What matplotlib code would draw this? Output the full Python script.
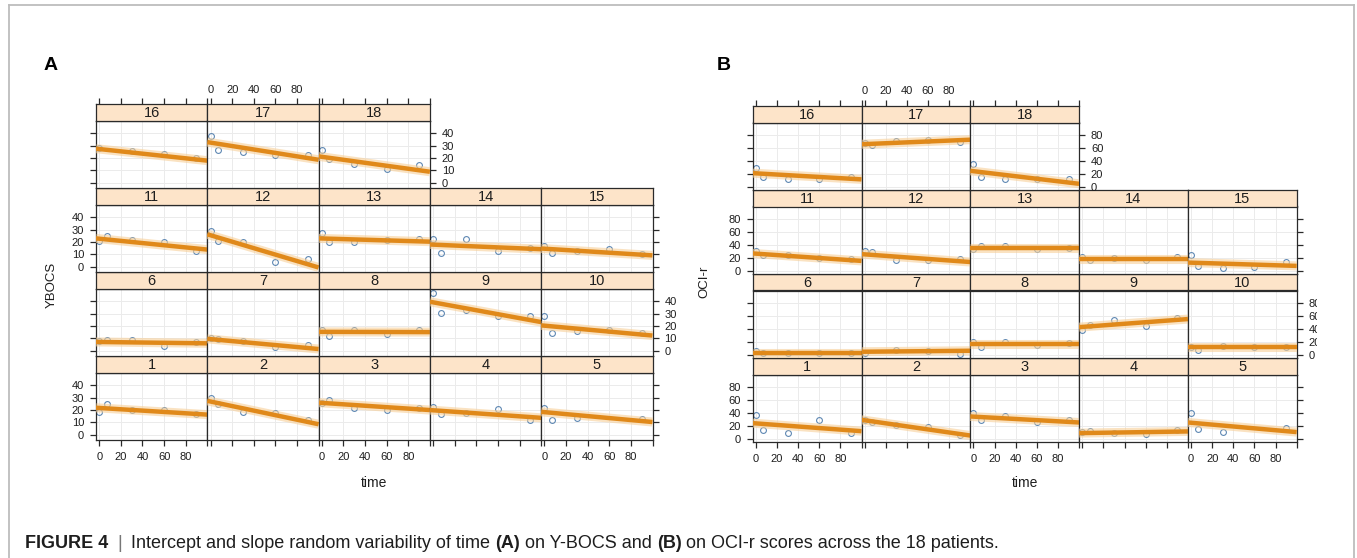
import numpy as np
import matplotlib
matplotlib.use("Agg")
import matplotlib.pyplot as plt
from matplotlib.lines import Line2D
from matplotlib.patches import Rectangle

plt.rcParams['font.family'] = ['Liberation Sans', 'DejaVu Sans']

W_PX, H_PX = 1357, 558

# measurement days and patient ids
times = [0, 7, 30, 60, 90]
patients = list(range(1, 19))

# Y-BOCS observed scores per patient (days 0, 7, 30, 60, 90)
ybocs_scores = [
    [18.6, 24.9, 20.0, 20.0, 16.7],
    [29.6, 24.7, 18.1, 17.3, 12.3],
    [25.5, 28.2, 21.4, 20.0, 21.9],
    [22.2, 16.7, 17.3, 20.5, 12.3],
    [21.7, 12.2, 13.9, np.nan, 13.1],
    [7.7, 8.8, 8.8, 3.8, 7.4],
    [10.4, 9.6, 7.7, 3.0, 4.9],
    [17.0, 11.8, 16.4, 13.7, 17.0],
    [47.0, 30.7, 32.9, 28.0, 28.2],
    [28.2, 14.5, 15.6, 16.4, 14.5],
    [21.1, 25.2, 21.6, 19.7, 12.9],
    [29.0, 20.8, 20.3, 3.8, 6.6],
    [27.1, 20.3, 19.7, 21.6, 22.2],
    [22.2, 11.5, 22.2, 12.9, 15.3],
    [17.0, 11.5, 12.9, 14.2, 10.7],
    [28.2, np.nan, 25.4, 23.5, 19.9],
    [37.8, 26.3, 24.7, 22.5, 22.2],
    [26.3, 19.5, 15.3, 11.0, 14.5],
]
# random intercept / slope fits for Y-BOCS
ybocs_intercept = [21.7, 26.9, 25.8, 19.8, 18.3, 7.1, 9.4, 15.3, 39.2, 20.3,
                   22.7, 25.5, 22.9, 17.9, 14.6, 27.3, 32.5, 21.0]
ybocs_slope = [-0.054, -0.184, -0.058, -0.061, -0.080, -0.011, -0.080, -0.002, -0.160, -0.080,
               -0.088, -0.261, -0.026, -0.037, -0.054, -0.094, -0.139, -0.121]

# OCI-r observed scores per patient
oci_scores = [
    [36.4, 13.3, 9.2, 28.7, 9.2],
    [28.7, 26.2, 22.0, 18.5, 6.7],
    [40.0, 28.7, 34.9, 25.6, 29.7],
    [10.3, 12.8, 9.2, 8.2, 13.3],
    [40.0, 15.9, 10.3, np.nan, 16.9],
    [6.7, 3.1, 3.1, 3.1, 3.1],
    [3.1, np.nan, 8.2, 6.7, 1.5],
    [19.5, 11.8, 19.5, 15.9, 18.5],
    [39.0, 46.7, 53.3, 45.1, 56.9],
    [11.8, 7.2, 14.4, 11.8, 12.3],
    [31.4, 24.6, 24.6, 20.4, 18.8],
    [31.4, 28.8, 16.8, 16.8, 18.3],
    [33.5, 38.7, 39.3, 34.0, 36.1],
    [22.0, 16.8, 20.4, 16.8, 22.0],
    [24.6, 7.9, 5.2, 6.3, 14.1],
    [29.3, 16.2, 13.1, 12.0, 16.2],
    [68.6, 64.4, 70.7, 73.3, 69.6],
    [35.6, 16.2, 12.0, 13.1, 12.0],
]
oci_intercept = [24.2, 29.0, 34.6, 9.3, 25.2, 4.0, 5.2, 16.9, 43.4, 11.8,
                 26.9, 25.8, 36.1, 19.4, 13.0, 21.2, 66.2, 24.5]
oci_slope = [-0.120, -0.235, -0.090, 0.025, -0.144, 0.0, 0.015, 0.0, 0.121, 0.0,
             -0.112, -0.118, 0.0, 0.0, -0.050, -0.093, 0.068, -0.194]

ybocs_ticks = [0, 10, 20, 30, 40]
oci_ticks = [0, 20, 40, 60, 80]
time_ticks = [0, 20, 40, 60, 80, 100]
time_labels = ["0", "20", "40", "60", "80", ""]

STRIP = '#fde4c9'
EDGE = '#2a2a2a'
GRID = '#ebebeb'
ORANGE = '#e0891a'
HALO = '#f7cf98'
POINT = '#5f88b3'
TXT = '#1e1e1e'


def fx(px):
    return px / W_PX


def fy(py):
    return 1 - py / H_PX


def rect(left, top, width, height):
    return [left / W_PX, 1 - (top + height) / H_PX, width / W_PX, height / H_PX]


fig = plt.figure(figsize=(W_PX / 100, H_PX / 100), dpi=100)


def draw_block(left, bottom, colw, rowh, striph, scores, icpt, slope, yticks, ylim,
               ylabel, ylabel_xy, letter, letter_xy):
    xlim = (-3, 100)
    xs = np.array(xlim, dtype=float)
    for k, pid in enumerate(patients):
        r, c = divmod(k, 5)
        top = bottom - (r + 1) * rowh
        ax = fig.add_axes(rect(left + c * colw, top + striph, colw, rowh - striph))
        st = fig.add_axes(rect(left + c * colw, top, colw, striph))

        ax.set_xlim(xlim)
        ax.set_ylim(ylim)
        ax.set_xticks(time_ticks, time_labels)
        ax.set_yticks(yticks)
        ax.grid(True, color=GRID, lw=0.7)
        ax.set_axisbelow(True)

        right_col = (c == 4) if r < 3 else (c == 2)
        ax.tick_params(direction='out', length=4.5, width=0.9, color=EDGE,
                       labelsize=8, pad=4, labelcolor=TXT,
                       left=(c == 0), right=right_col, bottom=(r == 0), top=False,
                       labelleft=(c == 0 and r in (0, 2)),
                       labelright=(right_col and r in (1, 3)),
                       labelbottom=(r == 0 and c in (0, 2, 4)), labeltop=False)
        for sp in ax.spines.values():
            sp.set_color(EDGE)
            sp.set_linewidth(0.9)

        ax.plot(times, scores[k], 'o', mfc='none', mec=POINT, ms=4.2, mew=0.8, zorder=2)
        ys = icpt[k] + slope[k] * xs
        ax.plot(xs, ys, color=HALO, lw=6.5, alpha=0.6, solid_capstyle='butt', zorder=3)
        ax.plot(xs, ys, color=ORANGE, lw=3.2, solid_capstyle='butt', zorder=4)

        st.set_facecolor(STRIP)
        st.set_xlim(xlim)
        st.set_ylim(0, 1)
        st.set_yticks([])
        if r == 3:
            st.set_xticks(time_ticks, time_labels)
            st.tick_params(direction='out', length=4, width=0.9, color=EDGE,
                           labelsize=8, pad=3, labelcolor=TXT,
                           top=True, bottom=False, labeltop=(c == 1), labelbottom=False)
        else:
            st.set_xticks([])
        for sp in st.spines.values():
            sp.set_color(EDGE)
            sp.set_linewidth(0.9)
        st.text(0.5, 0.45, str(pid), transform=st.transAxes, ha='center', va='center',
                fontsize=10.5, color=TXT)

    ncols = 5
    fig.text(fx(ylabel_xy[0]), fy(ylabel_xy[1]), ylabel, rotation=90,
             ha='center', va='center', fontsize=9.5, color=TXT)
    fig.text(fx(left + ncols * colw / 2), fy(483), 'time', ha='center', va='center',
             fontsize=10, color=TXT)
    fig.text(fx(letter_xy[0]), fy(letter_xy[1]), letter, ha='center', va='center',
             fontsize=14, fontweight='bold')


draw_block(96, 440.3, 111.3, 84, 16.7, ybocs_scores, ybocs_intercept, ybocs_slope,
           ybocs_ticks, (-4.5, 50), 'YBOCS', (52, 285), 'A', (51, 65))
draw_block(752.7, 441.7, 108.8, 84, 16.8, oci_scores, oci_intercept, oci_slope,
           oci_ticks, (-4, 99.5), 'OCI-r', (704, 282), 'B', (724, 65))

# right-hand labels of the B block are cut off in the original figure
fig.add_artist(Rectangle((fx(1317), fy(362)), fx(1352) - fx(1317), fy(296) - fy(362),
                         transform=fig.transFigure, facecolor='white', edgecolor='none',
                         zorder=10))

# light frame around the figure
frame_kw = dict(transform=fig.transFigure, color='#bdbdbd', lw=1.3, zorder=11)
fig.add_artist(Line2D([fx(9), fx(9)], [fy(5), 0], **frame_kw))
fig.add_artist(Line2D([fx(9), fx(1354)], [fy(5), fy(5)], **frame_kw))
fig.add_artist(Line2D([fx(1354), fx(1354)], [fy(5), 0], **frame_kw))

# caption with mixed weights
renderer = fig.canvas.get_renderer()
pieces = [("FIGURE 4", 'bold', TXT, 0),
          ("|", 'normal', '#777777', 9),
          ("Intercept and slope random variability of time ", 'normal', TXT, 9),
          ("(A)", 'bold', TXT, 0),
          (" on Y-BOCS and ", 'normal', TXT, 0),
          ("(B)", 'bold', TXT, 0),
          (" on OCI-r scores across the 18 patients.", 'normal', TXT, 0)]
x = 25.0
for txt, weight, col, gap in pieces:
    x += gap
    t = fig.text(fx(x), fy(543), txt, ha='left', va='center', fontsize=13,
                 fontweight=weight, color=col)
    x += t.get_window_extent(renderer).width

fig.savefig('out.png', dpi=100)
